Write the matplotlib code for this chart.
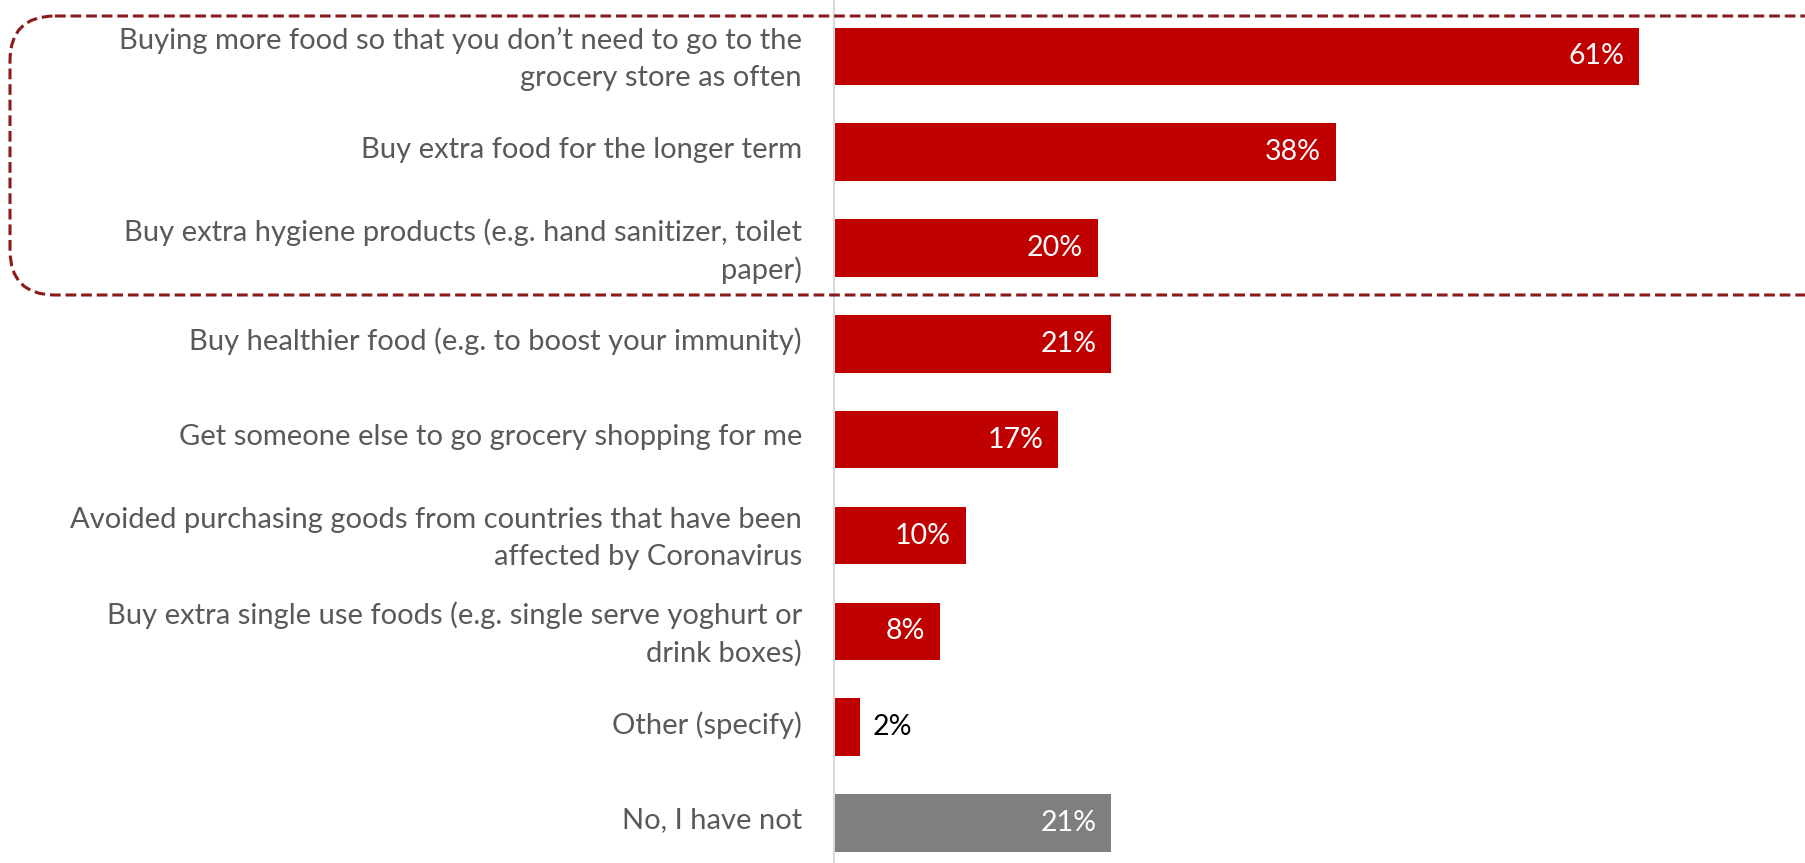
import matplotlib
matplotlib.use("Agg")
import matplotlib.pyplot as plt
import matplotlib.transforms as mtransforms
from matplotlib.patches import FancyBboxPatch

plt.rcParams['font.family'] = ['Lato', 'DejaVu Sans']

# answers, top to bottom
labels = [
    "Buying more food so that you don\u2019t need to go to the\ngrocery store as often",
    "Buy extra food for the longer term",
    "Buy extra hygiene products (e.g. hand sanitizer, toilet\npaper)",
    "Buy healthier food (e.g. to boost your immunity)",
    "Get someone else to go grocery shopping for me",
    "Avoided purchasing goods from countries that have been\naffected by Coronavirus",
    "Buy extra single use foods (e.g. single serve yoghurt or\ndrink boxes)",
    "Other (specify)",
    "No, I have not",
]
values = [61, 38, 20, 21, 17, 10, 8, 2, 21]
bar_colors = ["#C00000"] * 8 + ["#7F7F7F"]

W, H = 1805, 863
fig = plt.figure(figsize=(W / 100, H / 100), dpi=100)

ax_left = 834 / W
ax = fig.add_axes([ax_left, 0, 1 - ax_left, 1])

y = list(range(len(values)))
bars = ax.barh(y, values, height=0.6, color=bar_colors, zorder=2)

ax.set_xlim(0, (W - 834) / 13.2)
ax.set_ylim(8.417, -0.588)

for b, v in zip(bars, values):
    yc = b.get_y() + b.get_height() / 2
    if v < 5:
        ax.annotate(f"{v}%", (b.get_width(), yc), xytext=(12, 0),
                    textcoords="offset pixels", ha="left", va="center",
                    color="black", fontsize=20.5)
    else:
        ax.annotate(f"{v}%", (b.get_width(), yc), xytext=(-15, 0),
                    textcoords="offset pixels", ha="right", va="center",
                    color="white", fontsize=20.5)

ax.set_yticks(y)
ax.set_yticklabels(labels, fontsize=21, color="#595959", ha="right",
                   multialignment="right", linespacing=1.5)
ax.tick_params(axis="y", length=0, pad=23)
# nudge the labels up a little so the text block sits on the bar centre
shift = mtransforms.ScaledTranslation(0, 5 / 100, fig.dpi_scale_trans)
for t in ax.get_yticklabels():
    t.set_transform(t.get_transform() + shift)
ax.set_xticks([])
for s in ["top", "right", "bottom"]:
    ax.spines[s].set_visible(False)
ax.spines["left"].set_color("#D9D9D9")
ax.spines["left"].set_linewidth(1.5)

# dashed highlight box around the top three answers (pixel coordinates)
over = fig.add_axes([0, 0, 1, 1], facecolor="none")
over.set_xlim(0, W)
over.set_ylim(H, 0)
over.axis("off")
box = FancyBboxPatch((10, 16), W + 60, 279,
                     boxstyle="round,pad=0,rounding_size=45",
                     fill=False, edgecolor="#8B1A1A", linewidth=2.2,
                     linestyle=(0, (3.5, 1.6)), clip_on=False)
over.add_patch(box)

fig.savefig("out.png", dpi=100)
